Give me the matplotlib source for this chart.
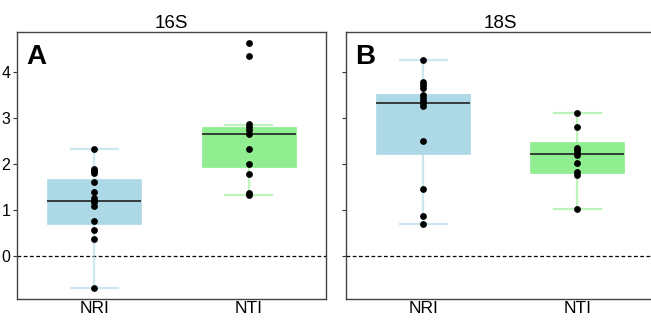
import matplotlib
matplotlib.use("Agg")
import matplotlib.pyplot as plt
import numpy as np

plt.rcParams['font.family'] = ['Liberation Sans', 'DejaVu Sans']

categories = ["NRI", "NTI"]
panels = ["16S", "18S"]
panel_letters = ["A", "B"]
colors = ["#ADD8E6", "#90EE90"]

# point values
pts_16S_NRI = [2.33, 1.90, 1.84, 1.80, 1.62, 1.39, 1.26, 1.21, 1.17, 1.09, 0.77, 0.57, 0.38, -0.68]
pts_16S_NTI = [4.62, 4.34, 2.86, 2.81, 2.74, 2.65, 2.33, 2.00, 1.78, 1.38, 1.34]
pts_18S_NRI = [4.26, 3.77, 3.72, 3.65, 3.49, 3.43, 3.37, 3.32, 3.26, 2.50, 1.47, 0.88, 0.71]
pts_18S_NTI = [3.10, 2.81, 2.36, 2.30, 2.25, 2.19, 2.03, 1.82, 1.76, 1.02]

# box statistics: whislo, q1, median, q3, whishi
box_16S_NRI = [-0.68, 0.70, 1.21, 1.67, 2.33]
box_16S_NTI = [1.34, 1.94, 2.65, 2.80, 2.85]
box_18S_NRI = [0.70, 2.22, 3.32, 3.52, 4.26]
box_18S_NTI = [1.02, 1.80, 2.21, 2.47, 3.11]

yticks = [0, 1, 2, 3, 4]

points = {"16S": [pts_16S_NRI, pts_16S_NTI], "18S": [pts_18S_NRI, pts_18S_NTI]}
boxes = {"16S": [box_16S_NRI, box_16S_NTI], "18S": [box_18S_NRI, box_18S_NTI]}

fig = plt.figure(figsize=(6.51, 3.2), dpi=100)
W = 308.4 / 651
H = (299.3 - 31.7) / 320
y0 = 1 - 299.3 / 320
axes = [fig.add_axes([17.3 / 651, y0, W, H]), fig.add_axes([346 / 651, y0, W, H])]

for k, (ax, panel) in enumerate(zip(axes, panels)):
    for i, (st, pts, col) in enumerate(zip(boxes[panel], points[panel], colors)):
        stats = [dict(whislo=st[0], q1=st[1], med=st[2], q3=st[3], whishi=st[4], fliers=[])]
        light = matplotlib.colors.to_rgba(col, 0.6)
        ax.bxp(stats, positions=[i], widths=0.61, patch_artist=True, showfliers=False,
               boxprops=dict(facecolor=col, edgecolor=col, linewidth=0.5),
               whiskerprops=dict(color=light, linewidth=1.6),
               capprops=dict(color=light, linewidth=1.6),
               medianprops=dict(color="#222222", linewidth=1.2),
               capwidths=0.305, zorder=2)
        ax.scatter(np.full(len(pts), i), pts, s=24, color="black", zorder=4, linewidths=0)
    ax.axhline(0, color="black", linestyle=(0, (3, 2)), linewidth=0.9, zorder=1)
    ax.set_xlim(-0.5, 1.5)
    ax.set_ylim(-0.93, 4.87)
    ax.set_xticks([0, 1])
    ax.set_xticklabels(categories, fontsize=12.5)
    ax.set_yticks(yticks)
    ax.tick_params(axis='x', length=0, pad=1.5)
    ax.tick_params(axis='y', length=3, width=0.8, color="#333333", labelsize=11.5, pad=2)
    if k == 1:
        ax.set_yticklabels([])
    ax.set_title(panel, fontsize=13.5, pad=3)
    for s in ax.spines.values():
        s.set_color("#444444")
        s.set_linewidth(1.0)
    ax.text(0.03, 0.955, panel_letters[k], transform=ax.transAxes, fontsize=20,
            fontweight="bold", va="top", ha="left")

fig.savefig("out.png", dpi=100)
